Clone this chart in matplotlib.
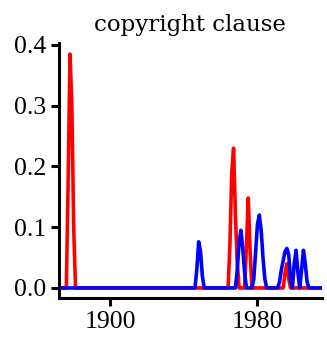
# copyright clause: share of years, two series
import matplotlib
matplotlib.use("Agg")
import matplotlib.pyplot as plt

red_years = [1872, 1876, 1877, 1878, 1879, 1880, 1881,
             1964, 1965, 1966, 1967, 1968, 1969, 1970,
             1973, 1974, 1975, 1976, 1977,
             1994, 1995, 1996, 1997, 1998, 2015]
red_vals = [0, 0, 0.18, 0.385, 0.30, 0.10, 0,
            0, 0.07, 0.19, 0.23, 0.12, 0.04, 0,
            0, 0.07, 0.148, 0.06, 0,
            0, 0.025, 0.04, 0.015, 0, 0]

blue_years = [1872, 1946, 1947, 1948, 1949, 1950, 1951,
              1968, 1969, 1970, 1971, 1972, 1973, 1974,
              1977, 1978, 1979, 1980, 1981, 1982, 1983, 1984, 1985,
              1991, 1992, 1993, 1994, 1995, 1996, 1997, 1998, 1999,
              2000, 2001, 2002, 2003, 2004, 2005, 2006, 2007, 2008, 2015]
blue_vals = [0, 0, 0.03, 0.076, 0.06, 0.02, 0,
             0, 0.03, 0.075, 0.095, 0.065, 0.025, 0,
             0, 0.015, 0.06, 0.105, 0.12, 0.095, 0.05, 0.015, 0,
             0, 0.01, 0.03, 0.045, 0.06, 0.065, 0.055, 0.015, 0,
             0.04, 0.062, 0.025, 0, 0.03, 0.062, 0.04, 0.01, 0, 0]

xticks = [1900, 1980]
yticks = [0.0, 0.1, 0.2, 0.3, 0.4]

fig = plt.figure(figsize=(3.27, 3.39), dpi=100)
ax = fig.add_axes([0.1804, 0.1201, 0.8037, 0.7528])

ax.plot(red_years, red_vals, color="#ff0000", lw=2.6)
ax.plot(blue_years, blue_vals, color="#0000ff", lw=2.6)

ax.set_xlim(1872, 2015)
ax.set_ylim(-0.017, 0.403)
ax.set_xticks(xticks)
ax.set_yticks(yticks)
ax.set_yticklabels(["%.1f" % v for v in yticks])

for s in ["top", "right"]:
    ax.spines[s].set_visible(False)
for s in ["left", "bottom"]:
    ax.spines[s].set_linewidth(2.2)
    ax.spines[s].set_color("black")

ax.tick_params(length=5.5, width=2.2, pad=4, labelsize=18.5)
for lab in ax.get_xticklabels() + ax.get_yticklabels():
    lab.set_family("Liberation Serif")

ax.set_title("copyright clause", family="DejaVu Serif", fontsize=16.5, pad=9)

fig.savefig("out.png", dpi=100)
